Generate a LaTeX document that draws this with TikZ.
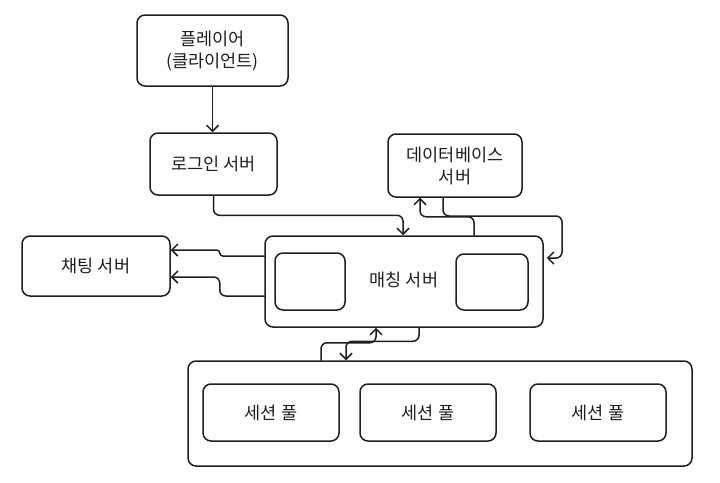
\documentclass[tikz,border=0pt]{standalone}
\usepackage{fontspec}
\setmainfont{Noto Sans CJK KR}
\usetikzlibrary{arrows.meta,calc}
\definecolor{ink}{HTML}{1E1E1E}
\tikzset{
  box/.style={draw=ink, line width=1.5pt, rounded corners=8pt, inner sep=0pt, align=center,
    font=\fontsize{17.5}{22}\selectfont, text=ink},
  conn/.style={draw=ink, line width=1.5pt, line cap=round, line join=round, rounded corners=6pt},
  arr/.style={conn, -{Straight Barb[length=6pt,width=12pt,line width=1.5pt]}},
}
\begin{document}
\begin{tikzpicture}[x=1pt,y=-1pt]
\useasboundingbox (0,0) rectangle (720,482);
\node[box, minimum width=151pt, minimum height=71pt] (player) at (212.5,50.5) {플레이어\\(클라이언트)};
\node[box, minimum width=127pt, minimum height=62pt] (login) at (213.5,164) {로그인 서버};
\node[box, minimum width=134pt, minimum height=63pt] (db) at (455,165.5) {데이터베이스\\서버};
\node[box, minimum width=148pt, minimum height=60pt] (chat) at (96,266) {채팅 서버};
\node[box, minimum width=278pt, minimum height=91pt] (match) at (404,281.5) {};
\node[box, minimum width=70pt, minimum height=57pt] (mleft) at (310,281.5) {};
\node[box, minimum width=72pt, minimum height=56pt] (mright) at (492,282) {};
\node[font=\fontsize{17.5}{22}\selectfont, text=ink] (mlabel) at (404,280) {매칭 서버};
\node[box, minimum width=504pt, minimum height=105pt] (sess) at (440,413.5) {};
\node[box, minimum width=136pt, minimum height=57pt] (pool1) at (271,412.5) {세션 풀};
\node[box, minimum width=136pt, minimum height=57pt] (pool2) at (428,412.5) {세션 풀};
\node[box, minimum width=136pt, minimum height=57pt] (pool3) at (598,412.5) {세션 풀};

% player -> login
\draw[arr] (player.south) -- (player.south |- login.north);
% login -> matching
\draw[arr] (login.south) |- ($(match.north)+(-1,-20)$) -- ($(match.north)+(-1,0)$);
% matching -> db
\draw[arr] ($(match.north)+(70,0)$) |- ($(db.south)+(-35,19)$) -- ($(db.south)+(-35,0)$);
% db -> matching (right side)
\coordinate (dturn) at (562,216);
\draw[arr] ($(db.south)+(-12,0)$) |- (dturn) |- ($(match.east)+(3,-23.5)$);
% matching -> chat (upper)
\draw[arr, rounded corners=3pt] ($(match.west)+(0,-25.5)$) -- ($(chat.east)+(49,-10)$) -- ($(chat.east)+(49,-16)$) -- ($(chat.east)+(0,-16)$);
% matching -> chat (lower)
\draw[arr] ($(match.west)+(0,14.5)$) -- ($(chat.east)+(49,30)$) -- ($(chat.east)+(49,11)$) -- ($(chat.east)+(0,11)$);
% session -> matching
\draw[arr] ($(sess.north)+(-119,0)$) |- ($(match.south)+(-28,15)$) -- ($(match.south)+(-28,0)$);
% matching -> session
\draw[arr] ($(match.south)+(15,0)$) |- ($(sess.north)+(-94,-19)$) -- ($(sess.north)+(-94,0)$);
\end{tikzpicture}
\end{document}
